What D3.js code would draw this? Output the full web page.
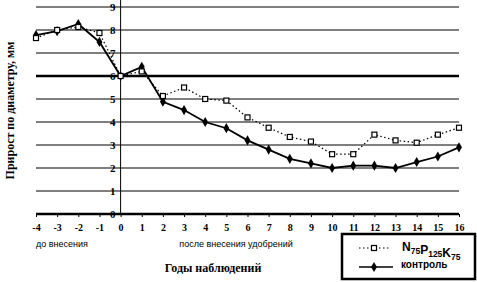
<!DOCTYPE html>
<html>
<head>
<meta charset="utf-8">
<script src="https://cdn.jsdelivr.net/npm/d3@7"></script>
<style>
  body { margin: 0; background: #fff; }
  svg { display: block; }
  text { font-family: "Liberation Serif", serif; fill: #000; }
</style>
</head>
<body>
<svg id="chart" width="477" height="282"></svg>
<script>
// Years relative to fertilizer application
const years = d3.range(-4, 17);
const yTicks = [0, 1, 2, 3, 4, 5, 6, 7, 8, 9];

// N75P125K75
const fertilized = [7.65, 8.0, 8.13, 7.87, 6.0, 6.2, 5.13, 5.5, 5.0, 4.93, 4.2,
  3.75, 3.35, 3.15, 2.6, 2.6, 3.45, 3.2, 3.1, 3.45, 3.75];
// контроль
const control = [7.78, 7.95, 8.26, 7.48, 6.0, 6.4, 4.88, 4.52, 4.0, 3.73, 3.2,
  2.8, 2.4, 2.2, 2.0, 2.1, 2.1, 2.0, 2.26, 2.5, 2.9];

const svg = d3.select("#chart");
const plot = { left: 36, right: 459, top: 7, bottom: 214 };

const x = d3.scaleLinear().domain([-4, 16]).range([plot.left, plot.right]);
const y = d3.scaleLinear().domain([0, 9]).range([plot.bottom, plot.top]);

// Gridlines
svg.append("g")
  .selectAll("line")
  .data(yTicks)
  .enter().append("line")
  .attr("x1", plot.left)
  .attr("x2", plot.right)
  .attr("y1", d => y(d))
  .attr("y2", d => y(d))
  .attr("stroke", "#000")
  .attr("stroke-width", d => (d === 6 || d === 0) ? 2.5 : 1);

// Vertical axis at year 0
svg.append("line")
  .attr("x1", x(0)).attr("x2", x(0))
  .attr("y1", 0).attr("y2", plot.bottom)
  .attr("stroke", "#000")
  .attr("stroke-width", 1);

// X axis ticks and labels
const xAxis = svg.append("g")
  .attr("transform", `translate(0,${plot.bottom})`)
  .call(d3.axisBottom(x).tickValues(years).tickSize(3).tickPadding(7).tickFormat(d3.format("d")));
xAxis.select(".domain").remove();
xAxis.selectAll("line").attr("stroke-width", 1);
xAxis.selectAll("text")
  .style("font-family", "Liberation Serif")
  .style("font-size", "10px")
  .style("font-weight", "bold")
  .text(d => d < 0 ? "-" + Math.abs(d) : d);

// Y tick labels, drawn left of the year-0 axis
svg.append("g")
  .selectAll("text")
  .data(yTicks)
  .enter().append("text")
  .attr("x", x(0) - 5)
  .attr("y", d => y(d) + 4)
  .attr("text-anchor", "end")
  .style("font-size", "11px")
  .style("font-weight", "bold")
  .text(d => d);

// Lines
const line = d3.line()
  .x((d, i) => x(years[i]))
  .y(d => y(d));

svg.append("path")
  .datum(fertilized)
  .attr("d", line)
  .attr("fill", "none")
  .attr("stroke", "#000")
  .attr("stroke-width", 1.2)
  .attr("stroke-dasharray", "1.5,2.5");

svg.append("path")
  .datum(control)
  .attr("d", line)
  .attr("fill", "none")
  .attr("stroke", "#000")
  .attr("stroke-width", 1.8);

// Markers
svg.append("g")
  .selectAll("path")
  .data(control)
  .enter().append("path")
  .attr("d", d3.symbol(d3.symbolDiamond, 30))
  .attr("transform", (d, i) => `translate(${x(years[i])},${y(d)})`)
  .attr("fill", "#000");

svg.append("g")
  .selectAll("rect")
  .data(fertilized)
  .enter().append("rect")
  .attr("x", (d, i) => x(years[i]) - 2.5)
  .attr("y", d => y(d) - 2.5)
  .attr("width", 5)
  .attr("height", 5)
  .attr("fill", "#fff")
  .attr("stroke", "#000")
  .attr("stroke-width", 1.2);

// Axis captions
svg.append("text")
  .attr("x", 36).attr("y", 247)
  .style("font-family", "Liberation Sans")
  .style("font-size", "9px")
  .text("до внесения");

svg.append("text")
  .attr("x", 236).attr("y", 247)
  .attr("text-anchor", "middle")
  .style("font-family", "Liberation Sans")
  .style("font-size", "9px")
  .text("после внесения удобрений");

svg.append("text")
  .attr("x", 213).attr("y", 272)
  .attr("text-anchor", "middle")
  .style("font-size", "12px")
  .style("font-weight", "bold")
  .text("Годы наблюдений");

svg.append("text")
  .attr("transform", `translate(14,${(plot.top + plot.bottom) / 2}) rotate(-90)`)
  .attr("text-anchor", "middle")
  .style("font-size", "12px")
  .style("font-weight", "bold")
  .text("Прирост по диаметру, мм");

// Legend
const legend = svg.append("g");
legend.append("rect")
  .attr("x", 342).attr("y", 234)
  .attr("width", 133).attr("height", 45)
  .attr("fill", "#fff")
  .attr("stroke", "#000")
  .attr("stroke-width", 2.5);

legend.append("line")
  .attr("x1", 359).attr("x2", 391)
  .attr("y1", 248).attr("y2", 248)
  .attr("stroke", "#000")
  .attr("stroke-width", 1.2)
  .attr("stroke-dasharray", "1.5,2.5");
legend.append("rect")
  .attr("x", 371.5).attr("y", 245.5)
  .attr("width", 5).attr("height", 5)
  .attr("fill", "#fff")
  .attr("stroke", "#000")
  .attr("stroke-width", 1.2);

const lbl = legend.append("text")
  .attr("x", 402).attr("y", 251)
  .style("font-family", "Liberation Sans")
  .style("font-weight", "bold")
  .style("font-size", "12px");
[["N", "75"], ["P", "125"], ["K", "75"]].forEach(([el, sub]) => {
  lbl.append("tspan").text(el);
  lbl.append("tspan").attr("dy", 3).style("font-size", "8.5px").text(sub);
  lbl.append("tspan").attr("dy", -3).text("");
});

legend.append("line")
  .attr("x1", 359).attr("x2", 393)
  .attr("y1", 267).attr("y2", 267)
  .attr("stroke", "#000")
  .attr("stroke-width", 1.6);
legend.append("path")
  .attr("d", d3.symbol(d3.symbolDiamond, 30))
  .attr("transform", "translate(374,267)")
  .attr("fill", "#000");
legend.append("text")
  .attr("x", 401).attr("y", 268)
  .style("font-family", "Liberation Sans")
  .style("font-weight", "bold")
  .style("font-size", "10px")
  .text("контроль");
</script>
</body>
</html>
